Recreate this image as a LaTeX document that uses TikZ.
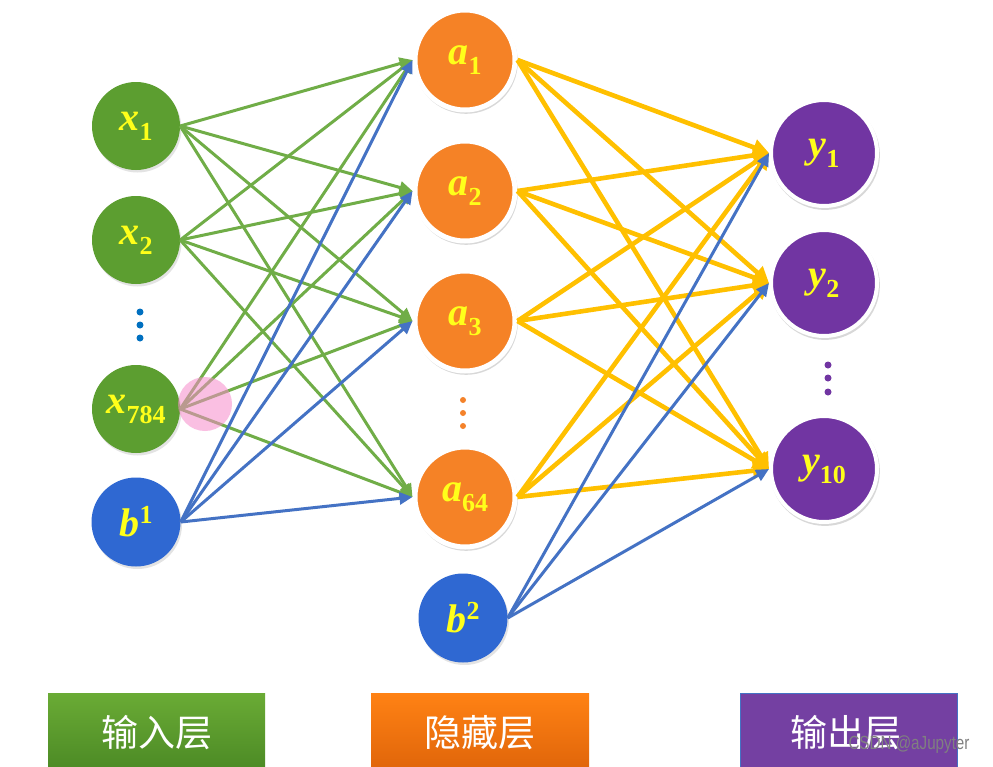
\documentclass[tikz,border=0pt]{standalone}
\usepackage{fontspec}
\setmainfont{Liberation Serif}
\newfontfamily\cjk{Noto Sans CJK SC}
\newfontfamily\wmfont{Liberation Sans}
\usetikzlibrary{arrows.meta,shadows}
\definecolor{ngreen}{HTML}{5C9E30}
\definecolor{egreen}{HTML}{70AD47}
\definecolor{eblue}{HTML}{4472C4}
\definecolor{nblue}{HTML}{2F68D2}
\definecolor{norange}{HTML}{F58226}
\definecolor{npurple}{HTML}{7135A2}
\definecolor{eyellow}{HTML}{FFC000}
\definecolor{lyellow}{HTML}{FFFF1A}
\definecolor{dotblue}{HTML}{0070C0}
\definecolor{dotorange}{HTML}{F4822A}
\definecolor{bgreentop}{HTML}{6AAB35}
\definecolor{bgreenbot}{HTML}{4C8A25}
\definecolor{borangetop}{HTML}{FF8214}
\definecolor{borangebot}{HTML}{E0650A}
\definecolor{bpurple}{HTML}{7440A2}
\newcommand{\nlab}[2]{{\fontsize{40}{40}\selectfont\bfseries\itshape #1}\raisebox{-10pt}{\fontsize{26}{26}\selectfont\bfseries #2}}
\newcommand{\nsup}[2]{{\fontsize{40}{40}\selectfont\bfseries\itshape #1}\raisebox{13pt}{\fontsize{26}{26}\selectfont\bfseries #2}}
\tikzset{
  neuron/.style={circle, inner sep=0pt, text=lyellow},
  flatshadow/.style={drop shadow={opacity=0.22, shadow xshift=1.5pt, shadow yshift=-2.5pt}},
  ringshadow/.style={drop shadow={opacity=0.3, shadow scale=1.035, shadow xshift=1pt, shadow yshift=-2pt}},
  inneuron/.style={neuron, flatshadow, fill=ngreen, minimum size=88pt},
  biasneuron/.style={neuron, flatshadow, fill=nblue, minimum size=89pt},
  hidneuron/.style={neuron, ringshadow, fill=norange, draw=white, line width=5pt, minimum size=100pt},
  outneuron/.style={neuron, ringshadow, fill=npurple, draw=white, line width=4pt, minimum size=106pt},
  gedge/.style={draw=egreen, line width=3pt, -{Triangle[length=13pt,width=12pt]}},
  bedge/.style={draw=eblue, line width=3pt, -{Triangle[length=13pt,width=12pt]}},
  yedge/.style={draw=eyellow, line width=4.6pt, -{Triangle[length=16pt,width=16pt]}},
  vdot/.style={circle, inner sep=0pt, minimum size=7pt},
  boxlabel/.style={text=white, font=\cjk\fontsize{37}{37}\selectfont},
}
\begin{document}
\begin{tikzpicture}[x=1pt,y=-1pt]
\useasboundingbox (0,0) rectangle (993,766);
\fill[white] (0,0) rectangle (993,766);
\clip (0,0) rectangle (993,766);

% input layer
\node[inneuron] (x1) at (136,126) {\nlab{x}{1}};
\node[inneuron] (x2) at (136,240) {\nlab{x}{2}};
\node[inneuron] (x784) at (136,409) {\nlab{x}{784}};
\node[biasneuron] (b1) at (136,522) {\nsup{b}{1}};
\node[vdot, fill=dotblue] (d1a) at (140,312) {};
\node[vdot, fill=dotblue] (d1b) at (140,325) {};
\node[vdot, fill=dotblue] (d1c) at (140,338) {};

% hidden layer
\node[hidneuron] (a1) at (465,60) {\nlab{a}{1}};
\node[hidneuron] (a2) at (465,191) {\nlab{a}{2}};
\node[hidneuron] (a3) at (465,321) {\nlab{a}{3}};
\node[hidneuron] (a64) at (465,497) {\nlab{a}{64}};
\node[biasneuron] (b2) at (463,618) {\nsup{b}{2}};
\node[vdot, fill=dotorange, minimum size=6pt] (d2a) at (463,400) {};
\node[vdot, fill=dotorange, minimum size=6pt] (d2b) at (463,413) {};
\node[vdot, fill=dotorange, minimum size=6pt] (d2c) at (463,426) {};

% output layer
\node[outneuron] (y1) at (824,153) {\nlab{y}{1}};
\node[outneuron] (y2) at (824,283) {\nlab{y}{2}};
\node[outneuron] (y10) at (824,469) {\nlab{y}{10}};
\node[vdot, fill=npurple] (d3a) at (828,365) {};
\node[vdot, fill=npurple] (d3b) at (828,378) {};
\node[vdot, fill=npurple] (d3c) at (828,392) {};

% connections
\foreach \s in {x1,x2,x784}
  \foreach \t in {a1,a2,a3,a64}
    \draw[gedge] (\s.east) -- (\t.west);
\foreach \t in {a1,a2,a3,a64}
  \draw[bedge] (b1.east) -- (\t.west);
\foreach \s in {a1,a2,a3,a64}
  \foreach \t in {y1,y2,y10}
    \draw[yedge] (\s.east) -- (\t.west);
\foreach \t in {y1,y2,y10}
  \draw[bedge] (b2.east) -- (\t.west);

% pointer highlight
\fill[magenta!45, opacity=0.55] (205,404) circle (27);

% layer boxes
\shade[top color=bgreentop, bottom color=bgreenbot] (48,693) rectangle (265,770);
\shade[top color=borangetop, bottom color=borangebot] (371,693) rectangle (589,770);
\fill[bpurple] (740,693) rectangle (957,770);
\draw[eblue, line width=1pt] (740,770) -- (740,693) -- (957,693) -- (957,770);
\node[boxlabel] (l1) at (157,733) {输入层};
\node[boxlabel] (l2) at (480,733) {隐藏层};
\node[boxlabel] (l3) at (846,733) {输出层};

% watermark
\node[text=gray, font=\wmfont\fontsize{19}{19}\selectfont, xscale=0.8, inner sep=0pt] (wm) at (909,745) {CSDN @aJupyter};
\end{tikzpicture}
\end{document}
